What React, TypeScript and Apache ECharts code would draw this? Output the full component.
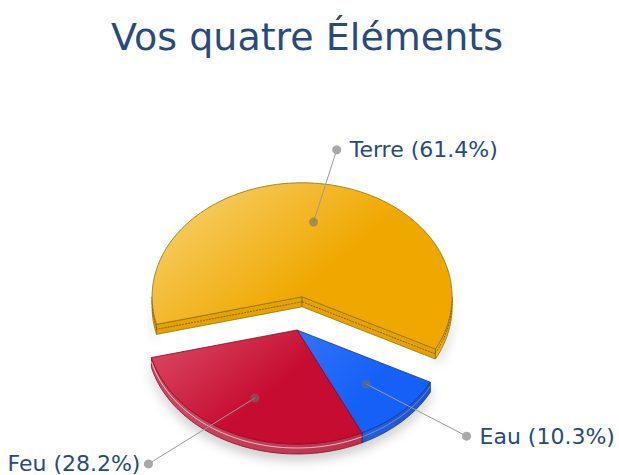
import React, { useEffect, useRef } from 'react';
import * as echarts from 'echarts';

// ---- data ----
const categories = ['Terre', 'Eau', 'Feu'];
const values = [61.4, 10.3, 28.2];
const slicedCategory = 'Terre';
const titleText = 'Vos quatre Éléments';

// ---- layout & style ----
const W = 619;
const H = 475;
const CX = 297;
const CY = 330;
const RX = 150;
const RY = 114;
const DEPTH = 10;
const START_DEG = 166;
const EXPLODE = 44;
const LABEL_RY = 148;
const LABEL_R = 200;
const LABEL_RX_TOP = 300;
const INNER_R = 0.66;
const FONT = '"DejaVu Sans", Verdana, sans-serif';
const TEXT_COLOR = '#274b7d';

const palette: Record<string, any> = {
  Terre: { base: '#efa800', light: '#f8d271', side: '#e4a300', sideLight: '#f0b620', stroke: '#93700f', line: 'rgba(110,78,0,0.75)' },
  Eau: { base: '#1560f6', light: '#2f72f8', side: '#1f52c6', sideLight: '#2a60d8', stroke: '#0c3a9a', line: 'rgba(160,190,255,0.5)' },
  Feu: { base: '#c60c30', light: '#da4a64', side: '#b8324d', sideLight: '#c84a62', stroke: '#8e0a24', line: 'rgba(255,225,230,0.75)' },
};

const TWO_PI = Math.PI * 2;

function renderItem(params: any, api: any) {
  const i = params.dataIndex;
  const v = api.value(0);
  const total = values.reduce((a, b) => a + b, 0);
  let before = 0;
  for (let k = 0; k < i; k++) before += values[k];
  const start = (START_DEG * Math.PI) / 180;
  const a0 = start + (before / total) * TWO_PI;
  const a1 = a0 + (v / total) * TWO_PI;
  const m = (a0 + a1) / 2;
  const name = categories[i];
  const col = palette[name];
  const sliced = name === slicedCategory;
  const cx = CX + (sliced ? EXPLODE * Math.cos(m) : 0);
  const cy = CY + (sliced ? (EXPLODE * Math.sin(m) * RY) / RX : 0);

  const P = (a: number, dy = 0) => [cx + RX * Math.cos(a), cy + RY * Math.sin(a) + dy];
  const arc = (s: number, e: number, dy = 0) => {
    const n = Math.max(2, Math.ceil((e - s) / (Math.PI / 120)));
    const pts: number[][] = [];
    for (let j = 0; j <= n; j++) pts.push(P(s + ((e - s) * j) / n, dy));
    return pts;
  };

  const depthZ = Math.round((Math.sin(m) + 1) * 10) * 10;
  const children: any[] = [];

  // outer wall (front-facing parts)
  for (let k = -1; k <= 2; k++) {
    const s = Math.max(a0, TWO_PI * k);
    const e = Math.min(a1, TWO_PI * k + Math.PI);
    if (e > s + 1e-6) {
      const top = arc(s, e, 0);
      const bot = arc(s, e, DEPTH).reverse();
      children.push({
        type: 'polygon',
        z2: depthZ + 1,
        shape: { points: top.concat(bot) },
        style: {
          fill: {
            type: 'linear', x: 0, y: 0, x2: 1, y2: 0,
            colorStops: [
              { offset: 0, color: col.sideLight },
              { offset: 1, color: col.side },
            ],
          },
          stroke: col.stroke,
          lineWidth: 0.8,
          lineJoin: 'round',
          shadowBlur: 12,
          shadowColor: 'rgba(0,0,0,0.25)',
          shadowOffsetY: 5,
        },
      });
      children.push({
        type: 'polyline',
        z2: depthZ + 2,
        shape: { points: arc(s, e, DEPTH * 0.4) },
        style: { stroke: col.line, lineWidth: 1, fill: null, lineDash: name === 'Terre' ? [2, 1] : null },
      });
    }
  }

  // cut faces
  const cut = (a: number) => {
    const p = P(a);
    children.push({
      type: 'polygon',
      z2: depthZ + 1,
      shape: { points: [[cx, cy], p, [p[0], p[1] + DEPTH], [cx, cy + DEPTH]] },
      style: { fill: col.side, stroke: col.stroke, lineWidth: 0.8, lineJoin: 'round' },
    });
    children.push({
      type: 'line',
      z2: depthZ + 2,
      shape: { x1: cx, y1: cy + DEPTH * 0.5, x2: p[0], y2: p[1] + DEPTH * 0.5 },
      style: { stroke: col.line, lineWidth: 1, lineDash: name === 'Terre' ? [2, 1] : null },
    });
  };
  if (Math.cos(a0) < 0) cut(a0);
  if (Math.cos(a1) > 0) cut(a1);

  // top face
  children.push({
    type: 'polygon',
    z2: depthZ + 3,
    shape: { points: [[cx, cy]].concat(arc(a0, a1, 0)) },
    style: {
      fill: {
        type: 'linear', x: 0, y: 0.1, x2: 0.6, y2: 0.5,
        colorStops: [
          { offset: 0, color: col.light },
          { offset: 1, color: col.base },
        ],
      },
      stroke: col.stroke,
      lineWidth: 0.8,
      lineJoin: 'round',
    },
  });

  // label
  const ix = cx + INNER_R * RX * Math.cos(m);
  const iy = cy + INNER_R * RY * Math.sin(m);
  const ly = cy + LABEL_RY * Math.sin(m);
  const right = Math.cos(m) >= 0;
  let lx: number;
  if (Math.abs(Math.sin(m)) > 0.95) {
    lx = cx + LABEL_RX_TOP * Math.cos(m);
  } else {
    const dy = ly - CY;
    lx = CX + (right ? 1 : -1) * Math.sqrt(Math.max(0, LABEL_R * LABEL_R - dy * dy));
  }
  children.push({
    type: 'line',
    z2: 1000,
    shape: { x1: ix, y1: iy, x2: lx, y2: ly },
    style: { stroke: '#9a9a9a', lineWidth: 1 },
  });
  children.push({
    type: 'circle',
    z2: 1001,
    shape: { cx: ix, cy: iy, r: 4.5 },
    style: { fill: 'rgba(110,110,110,0.55)' },
  });
  children.push({
    type: 'circle',
    z2: 1001,
    shape: { cx: lx, cy: ly, r: 4.5 },
    style: { fill: '#a8a8a8' },
  });
  children.push({
    type: 'text',
    z2: 1002,
    style: {
      text: `${name} (${Number(v).toFixed(1)}%)`,
      x: right ? lx + 13 : lx - 8,
      y: ly,
      align: right ? 'left' : 'right',
      verticalAlign: 'middle',
      fill: TEXT_COLOR,
      fontSize: 22,
      fontFamily: FONT,
    },
  });

  return { type: 'group', children };
}

export default function App() {
  const ref = useRef<HTMLDivElement>(null);
  useEffect(() => {
    if (!ref.current) return;
    const chart = echarts.init(ref.current, null, { renderer: 'svg' });
    chart.setOption({
      animation: false,
      backgroundColor: '#ffffff',
      title: {
        text: titleText,
        left: 106,
        top: 13,
        textStyle: { fontSize: 38, fontWeight: 'normal', fontFamily: FONT, color: TEXT_COLOR },
      },
      series: [
        {
          type: 'custom',
          coordinateSystem: 'none',
          renderItem,
          data: categories.map((c, i) => ({ name: c, value: [values[i]] })),
        },
      ],
    });
    return () => chart.dispose();
  }, []);
  return (
    <div
      ref={ref}
      style={{ position: 'fixed', left: 0, top: 0, width: W, height: H, background: '#fff' }}
    />
  );
}
